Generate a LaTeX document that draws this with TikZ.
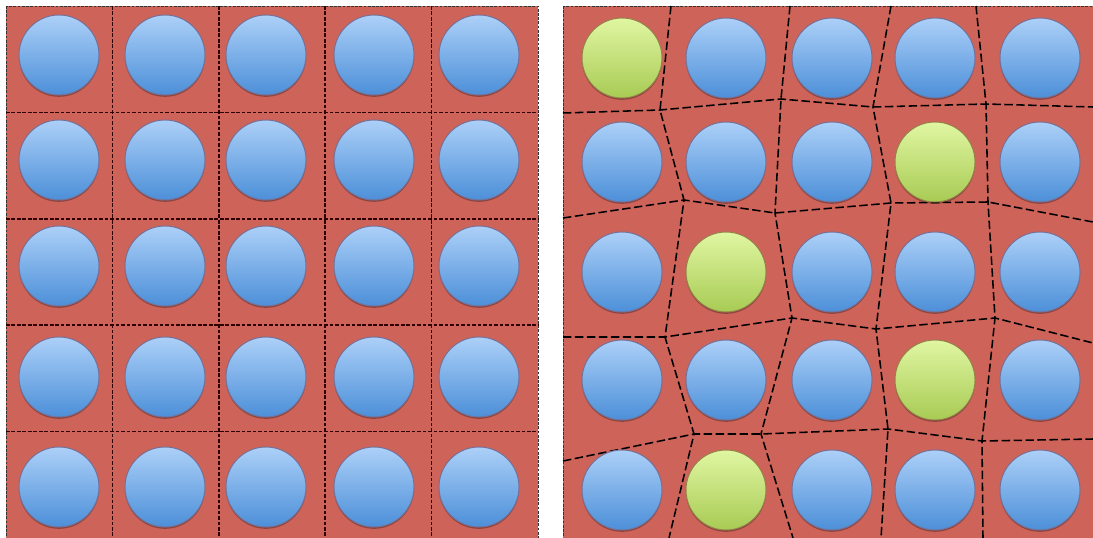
\documentclass[tikz,border=0pt]{standalone}
\usepackage{tikz}
\usetikzlibrary{shadows}
\definecolor{cellred}{RGB}{205,99,89}
\definecolor{bluetop}{RGB}{172,208,248}
\definecolor{bluebot}{RGB}{76,143,216}
\definecolor{blueedge}{RGB}{118,112,150}
\definecolor{greentop}{RGB}{224,246,162}
\definecolor{greenbot}{RGB}{168,203,84}
\definecolor{greenedge}{RGB}{150,128,72}
\tikzset{
  packregion/.style={fill=cellred,draw=black!80,line width=0.6pt,dash pattern=on 2pt off 1pt},
  packgrid/.style={draw=black!70!red!60!black,line width=1.1pt,dash pattern=on 2.6pt off 1.3pt},
  packedge/.style={draw=black,line width=1.1pt,dash pattern=on 6pt off 2.5pt},
  packball/.style={circle,minimum size=2cm,inner sep=0pt,line width=0.7pt,
    drop shadow={shadow xshift=0pt,shadow yshift=-1.3pt,opacity=0.3,fill=black}},
  blueball/.style={packball,draw=blueedge,top color=bluetop,bottom color=bluebot},
  greenball/.style={packball,draw=greenedge,top color=greentop,bottom color=greenbot}
}

\begin{document}
\begin{tikzpicture}[x=0.025cm,y=-0.025cm]
  \useasboundingbox (0,0) rectangle (1093,538);
  % ordered packing
  \path[packregion] (6,6) rectangle (538,538);
  \foreach \k in {1,...,4}{
    \draw[packgrid] ({6+106.4*\k},6) -- ({6+106.4*\k},538);
    \draw[packgrid] (6,{6+106.4*\k}) -- (538,{6+106.4*\k});
  }
  \foreach \y [count=\j] in {55,160,266,377,487}
    \foreach \x [count=\i] in {59,165,266,374,479}
      \node[blueball] (l\j\i) at (\x,\y) {};

  % disordered packing
  \path[packregion] (563,6) rectangle (1093,538);
  \coordinate (a1) at (660,110); \coordinate (a2) at (781,99);
  \coordinate (a3) at (873,107); \coordinate (a4) at (986,104);
  \coordinate (b1) at (684,200); \coordinate (b2) at (775,213);
  \coordinate (b3) at (891,203); \coordinate (b4) at (988,202);
  \coordinate (c1) at (665,337); \coordinate (c2) at (792,318);
  \coordinate (c3) at (876,329); \coordinate (c4) at (995,318);
  \coordinate (d1) at (694,434); \coordinate (d2) at (761,434);
  \coordinate (d3) at (888,429); \coordinate (d4) at (982,441);
  \coordinate (t1) at (671,6);   \coordinate (t2) at (790,6);
  \coordinate (t3) at (891,6);   \coordinate (t4) at (976,6);
  \coordinate (s1) at (669,538); \coordinate (s2) at (793,538);
  \coordinate (s3) at (881,538); \coordinate (s4) at (983,538);
  \coordinate (w1) at (563,113); \coordinate (w2) at (563,218);
  \coordinate (w3) at (563,337); \coordinate (w4) at (563,461);
  \coordinate (e1) at (1093,107); \coordinate (e2) at (1093,222);
  \coordinate (e3) at (1093,343); \coordinate (e4) at (1093,439);
  \foreach \n in {1,...,4}{
    \draw[packedge] (t\n) -- (a\n) -- (b\n) -- (c\n) -- (d\n) -- (s\n);
  }
  \draw[packedge] (w1) -- (a1) -- (a2) -- (a3) -- (a4) -- (e1);
  \draw[packedge] (w2) -- (b1) -- (b2) -- (b3) -- (b4) -- (e2);
  \draw[packedge] (w3) -- (c1) -- (c2) -- (c3) -- (c4) -- (e3);
  \draw[packedge] (w4) -- (d1) -- (d2) -- (d3) -- (d4) -- (e4);
  \foreach \y [count=\j] in {58,162,272,380,490}
    \foreach \x [count=\i] in {622,726,832,935,1040}{
      \pgfmathtruncatemacro\pick{((\j==1)&&(\i==1))||((\j==2)&&(\i==4))||((\j==3)&&(\i==2))||((\j==4)&&(\i==4))||((\j==5)&&(\i==2))}
      \ifnum\pick=1 \def\ballkind{greenball}\else\def\ballkind{blueball}\fi
      \node[\ballkind] (r\j\i) at (\x,\y) {};
    }
\end{tikzpicture}
\end{document}
